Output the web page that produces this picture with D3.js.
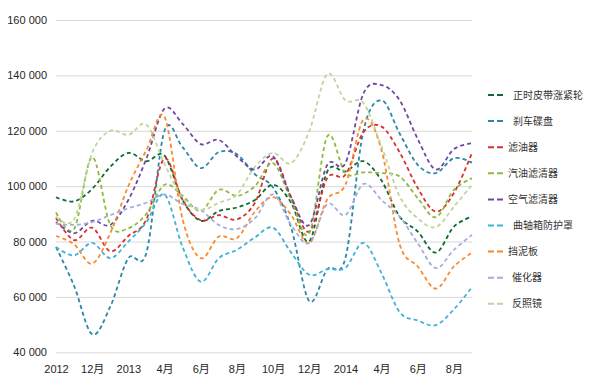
<!DOCTYPE html>
<html>
<head>
<meta charset="utf-8">
<script src="https://cdn.jsdelivr.net/npm/d3@7"></script>
<style>
  html, body { margin: 0; padding: 0; background: #ffffff; }
  svg { display: block; }
</style>
</head>
<body>
<svg id="chart" width="590" height="383"></svg>
<script>
// ---------- DATA ----------
const months = ["2012-10","2012-11","2012-12","2013-01","2013-02","2013-03","2013-04","2013-05",
                "2013-06","2013-07","2013-08","2013-09","2013-10","2013-11","2013-12","2014-01",
                "2014-02","2014-03","2014-04","2014-05","2014-06","2014-07","2014-08","2014-09"];
const tickLabels = ["2012","12月","2013","4月","6月","8月","10月","12月","2014","4月","6月","8月"];
const yTicks = [40000, 60000, 80000, 100000, 120000, 140000, 160000];

const seriesNames = ["正时皮带涨紧轮","刹车碟盘","滤油器","汽油滤清器","空气滤清器","曲轴箱防护罩","挡泥板","催化器","反照镜"];

const tensioner = [96000,94500,99000,107000,112000,109000,111000,95000,87500,91000,92300,95000,100500,94000,80000,105300,105300,109000,102000,89000,83600,76000,85400,89000];
const brakeDisc = [78000,64000,46500,56500,74000,76000,120000,114000,106500,112300,111500,104300,99500,85000,58500,70000,74000,120000,131000,119000,107700,104700,110100,108500];
const oilFilter = [88500,80500,85000,76500,82000,88000,110000,95000,87700,89500,88000,94000,110000,96000,83600,102900,104100,119500,121500,112200,99300,90800,97500,112000];
const fuelFilter = [90500,84500,110500,86000,84800,90000,100500,96500,91000,98700,96500,100000,108300,95000,83000,118000,104700,105000,104700,103500,95700,88800,98700,102900];
const airFilter = [87000,83000,87500,86000,95000,110000,128000,122500,115200,116700,110700,106000,110700,96000,86000,107700,108300,133500,136500,131000,117000,106000,113400,115500];
const crankGuard = [78000,75000,79500,74000,80000,87000,97000,78000,65500,74000,77000,81500,85000,76000,68000,70000,70500,79500,68500,54500,51500,49800,55500,63500];
const mudguard = [82000,79000,72000,83000,100000,113000,125000,88000,74000,81800,81200,90800,96000,89600,79400,95300,100500,124000,113000,79000,71000,63000,71000,76000];
const catalyst = [86500,86000,87000,89500,92000,94000,97000,93600,91400,86000,84500,88400,97000,86000,79500,93500,89500,100800,95000,89000,79400,70400,77000,82400];
const mirror = [89000,88000,112000,120000,118500,122200,108000,95700,91400,94000,97000,107000,112000,108300,119800,140500,131000,130000,114300,96300,88400,85200,92600,100500];

const seriesValues = [tensioner, brakeDisc, oilFilter, fuelFilter, airFilter, crankGuard, mudguard, catalyst, mirror];
const colors = ["#0c6b2f","#2a88a6","#d8312f","#8dbb3d","#71479f","#3db3d8","#f98a2d","#a2ade0","#bcd79b"];
const legendIndent = [5,5,0,0,0,5,0,4,4];

// ---------- CHART ----------
const svg = d3.select("#chart");
const plotL = 56, plotR = 472, plotT = 20, plotB = 352.3;

const x = d3.scalePoint().domain(months).range([plotL, plotR]);
const y = d3.scaleLinear().domain([40000, 160000]).range([plotB, plotT]);

const fmt = d3.formatLocale({decimal: ".", thousands: " ", grouping: [3], currency: ["", ""]}).format(",");

// grid + y labels
const yAxis = svg.append("g")
  .attr("transform", `translate(${plotL},0)`)
  .call(d3.axisLeft(y).tickValues(yTicks).tickSize(-(plotR - plotL)).tickPadding(9).tickFormat(fmt));
yAxis.select(".domain").remove();
yAxis.selectAll(".tick line").attr("stroke", "#d9d9d9").attr("stroke-width", 1);
yAxis.selectAll(".tick text")
  .attr("fill", "#262626")
  .style("font-family", "'Liberation Sans', Arial, sans-serif")
  .style("font-size", "11px");

// x labels
const xTickVals = months.filter((d, i) => i % 2 === 0);
const xAxis = svg.append("g")
  .attr("transform", `translate(0,${plotB})`)
  .call(d3.axisBottom(x).tickValues(xTickVals).tickSize(0).tickPadding(13)
        .tickFormat((d, i) => tickLabels[i]));
xAxis.select(".domain").remove();
xAxis.selectAll(".tick text")
  .attr("fill", "#262626")
  .style("font-family", "'Liberation Sans', 'Noto Sans CJK SC', Arial, sans-serif")
  .style("font-size", "11px");

// lines
const line = d3.line()
  .x((d, i) => x(months[i]))
  .y(d => y(d))
  .curve(d3.curveCardinal.tension(0));

svg.append("g").selectAll("path")
  .data(seriesValues)
  .join("path")
  .attr("d", d => line(d))
  .attr("fill", "none")
  .attr("stroke", (d, i) => colors[i])
  .attr("stroke-width", 1.8)
  .attr("stroke-dasharray", "4,3");

// legend
const legend = svg.append("g");
const legendY0 = 95, legendStep = 26.1;
seriesNames.forEach((name, i) => {
  const gy = legendY0 + i * legendStep;
  legend.append("line")
    .attr("x1", 488).attr("x2", 503)
    .attr("y1", gy).attr("y2", gy)
    .attr("stroke", colors[i])
    .attr("stroke-width", 2)
    .attr("stroke-dasharray", "6,3");
  legend.append("text")
    .attr("x", 508 + legendIndent[i])
    .attr("y", gy)
    .attr("dy", "0.35em")
    .attr("fill", "#333")
    .style("font-family", "'Noto Sans CJK SC', sans-serif")
    .style("font-size", "10px")
    .text(name);
});
</script>
</body>
</html>
